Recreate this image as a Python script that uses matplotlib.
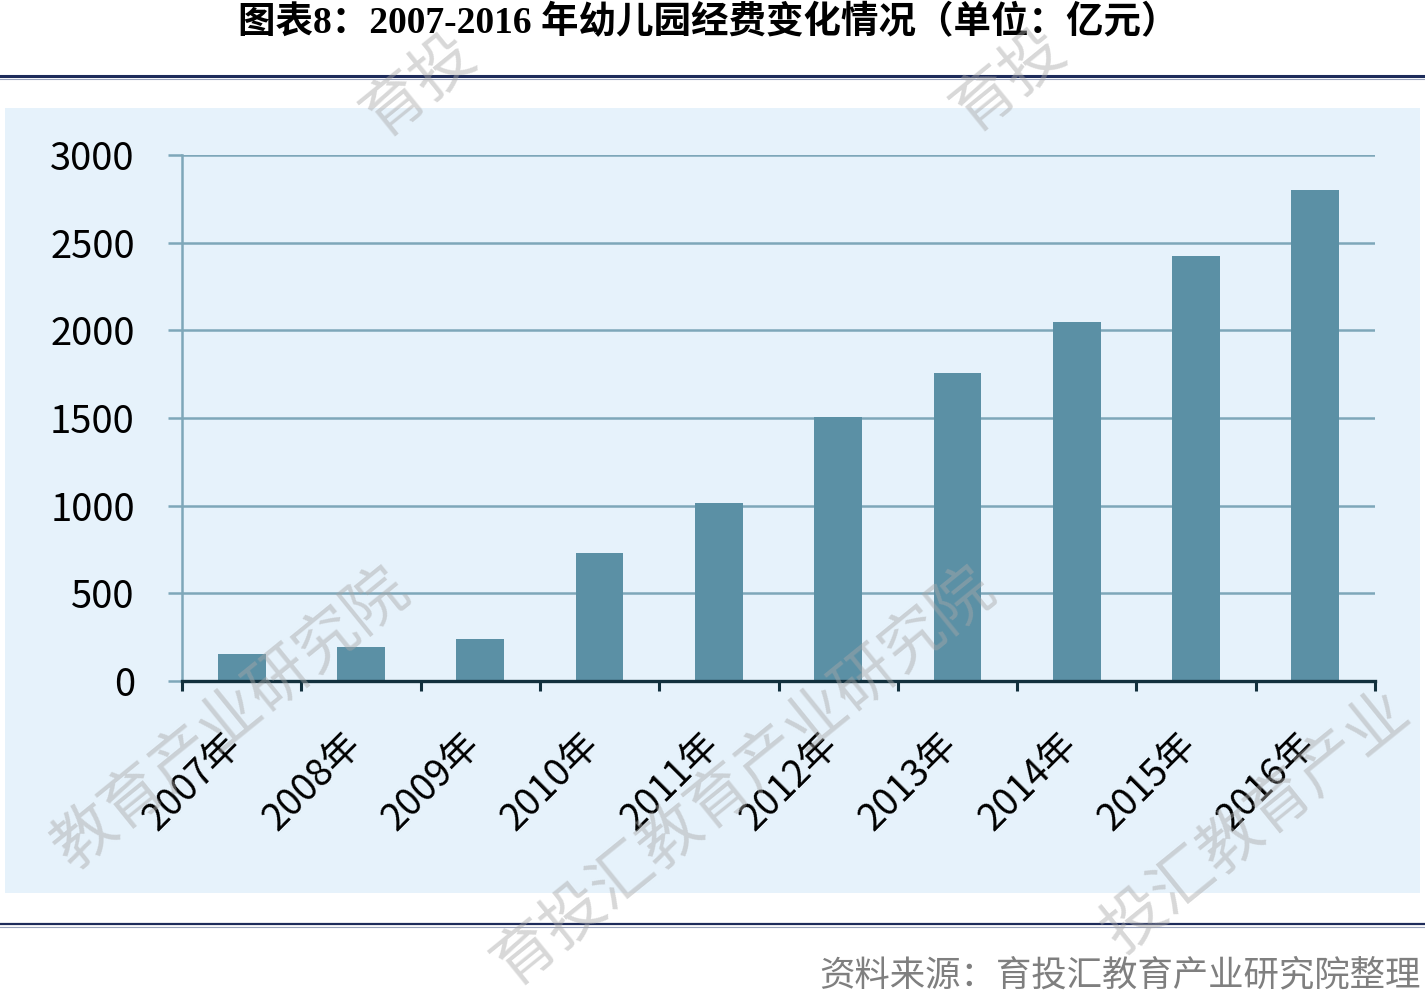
import matplotlib
matplotlib.use("Agg")
import matplotlib.pyplot as plt
from matplotlib.patches import Rectangle
from matplotlib.lines import Line2D
import matplotlib.transforms as mtransforms
import numpy as np

# ---- data ----
years = ["2007年", "2008年", "2009年", "2010年", "2011年",
         "2012年", "2013年", "2014年", "2015年", "2016年"]
funding = [152, 194, 240, 728, 1017, 1507, 1757, 2046, 2424, 2802]
y_ticks = [0, 500, 1000, 1500, 2000, 2500, 3000]
title = "图表8：2007-2016 年幼儿园经费变化情况（单位：亿元）"
source = "资料来源：育投汇教育产业研究院整理"
watermark = "育投汇教育产业研究院"

W, H = 1425, 1000
plt.rcParams['font.family'] = ['Noto Sans CJK SC', 'DejaVu Sans']

fig = plt.figure(figsize=(W / 100, H / 100), dpi=100)

def fx(px):
    return px / W

def fy(py):
    return 1 - py / H

# background panel
bg = Rectangle((fx(5), fy(893)), fx(1420) - fx(5), fy(108) - fy(893),
               transform=fig.transFigure, facecolor='#e6f2fb',
               edgecolor='none', zorder=-5)
fig.add_artist(bg)
# rules
for yy, c, lw in [(76, '#1d2b5a', 2.2), (79, '#9aa3bb', 0.8),
                  (924, '#1d2b5a', 1.6), (926.5, '#9aa3bb', 0.8)]:
    fig.add_artist(Line2D([0, 1], [fy(yy), fy(yy)], transform=fig.transFigure,
                          color=c, lw=lw, zorder=-4))

# title
fig.text(0.497, fy(23), title, ha='center', va='center', fontsize=27,
         fontweight='bold', family=['Liberation Serif', 'Noto Sans CJK SC'], color='black')
# source
fig.text(fx(1421), fy(975), source, ha='right', va='center', fontsize=25.5,
         color='#7f7f7f')

ax = fig.add_axes([fx(182), fy(681), fx(1375) - fx(182), fy(155) - fy(681)])
ax.set_zorder(1)
ax.set_facecolor('none')
x = np.arange(len(years))
ax.bar(x, funding, width=0.4, color='#5b90a5', zorder=3)

ax.set_xlim(-0.5, len(years) - 0.5)
ax.set_ylim(0, 3000)
ax.set_yticks(y_ticks)
ax.set_yticklabels([str(v) for v in y_ticks], fontsize=27.5)
grid_c = '#7ea7b9'
ax.yaxis.grid(True, color=grid_c, lw=1.8, zorder=1)
ax.set_axisbelow(True)

ax.tick_params(axis='y', direction='out', length=10, width=1.8, color=grid_c, pad=24)
ax.spines['left'].set_color(grid_c)
ax.spines['left'].set_linewidth(1.8)
for s in ['top', 'right']:
    ax.spines[s].set_visible(False)
ax.spines['bottom'].set_color('#12303d')
ax.spines['bottom'].set_linewidth(2.4)
ax.spines['bottom'].set_zorder(4)

ax.set_xticks(x)
ax.set_xticklabels(years, rotation=45, ha='right', fontsize=27)
ax.tick_params(axis='x', which='major', length=0, pad=32)
shift = mtransforms.ScaledTranslation(8 / 100, 0, fig.dpi_scale_trans)
for lab in ax.get_xticklabels():
    lab.set_transform(lab.get_transform() + shift)
ax.set_xticks(np.arange(-0.5, len(years), 1.0), minor=True)
ax.tick_params(axis='x', which='minor', direction='out', length=7, width=2.2,
               color='#12303d')

# watermarks: (center of full string in px, first visible char, last visible char)
ang = np.deg2rad(39)
step = 62.5
wm_specs = [((613, -72), 0, 1), ((1203, -77), 0, 1), ((158, 777), 3, 9),
            ((743, 776), 0, 9), ((1305, 782), 1, 6)]
for (cx, cy), i0, i1 in wm_specs:
    mid = (i0 + i1) / 2 - 4.5
    px = cx + mid * step * np.cos(ang)
    py = cy - mid * step * np.sin(ang)
    fig.text(fx(px), fy(py), watermark[i0:i1 + 1], ha='center', va='center',
             rotation=39, rotation_mode='anchor', fontsize=45,
             color='#a8a8a8', alpha=0.45, fontweight='light', zorder=10)

fig.savefig('out.png', dpi=100)
